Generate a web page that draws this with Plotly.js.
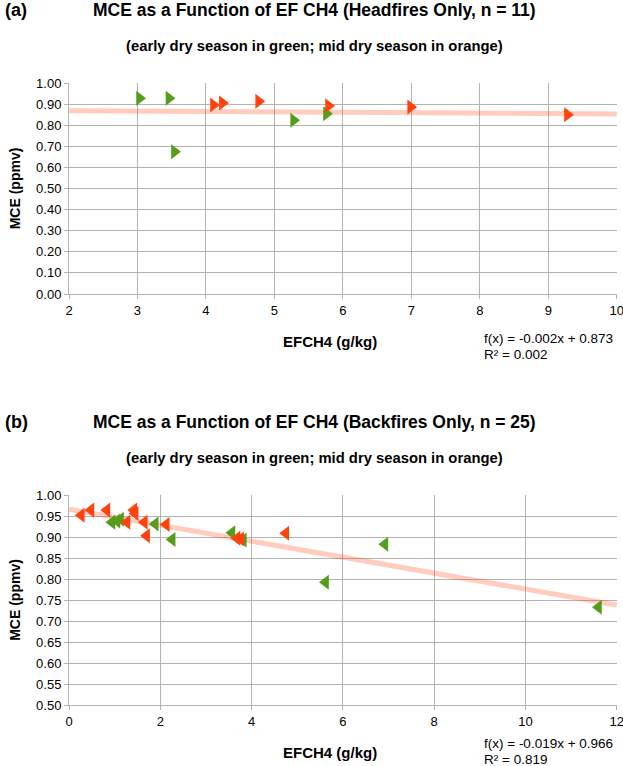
<!DOCTYPE html>
<html>
<head>
<meta charset="utf-8">
<script src="https://cdn.plot.ly/plotly-3.0.1.min.js"></script>
<style>
  html, body { margin: 0; padding: 0; background: #ffffff; }
  #chart { width: 623px; height: 766px; }
</style>
</head>
<body>
<div id="chart"></div>
<script>
// (a) headfires
const headGreenX = [3.03, 3.46, 3.54, 5.28, 5.76];
const headGreenY = [0.928, 0.928, 0.674, 0.823, 0.854];
const headOrangeX = [4.11, 4.24, 4.77, 5.79, 6.99, 9.28];
const headOrangeY = [0.896, 0.905, 0.913, 0.892, 0.886, 0.849];
const headFit = { slope: -0.002, intercept: 0.873, r2: 0.002, xRange: [2, 10] };

// (b) backfires
const backGreenX = [0.94, 1.05, 1.13, 1.89, 2.26, 3.57, 3.82, 5.62, 6.92, 11.6];
const backGreenY = [0.935, 0.938, 0.942, 0.931, 0.894, 0.910, 0.893, 0.792, 0.883, 0.733];
const backOrangeX = [0.27, 0.48, 0.83, 1.42, 1.45, 1.27, 1.65, 1.70, 2.13, 3.68, 3.76, 4.75];
const backOrangeY = [0.952, 0.964, 0.964, 0.964, 0.956, 0.935, 0.935, 0.903, 0.930, 0.897, 0.895, 0.909];
const backFit = { slope: -0.019, intercept: 0.966, r2: 0.819, xRange: [0, 12] };

const GREEN = '#579d1c';
const ORANGE = '#ff420e';
const FONT = 'Liberation Sans, Arial, sans-serif';

// page geometry (pixels) -> paper coords
const W = 623, H = 766, ML = 69, MR = 6, MT = 83, MB = 61;
const plotH = H - MT - MB;
const py = y => (H - MB - y) / plotH;
const pxx = x => (x - ML) / (W - ML - MR);

function fitTrace(fit, xa, ya) {
    const xs = fit.xRange;
    return {
        x: xs, y: xs.map(v => fit.intercept + fit.slope * v),
        xaxis: xa, yaxis: ya, mode: 'lines',
        line: { color: 'rgba(255,66,14,0.27)', width: 5 },
        hoverinfo: 'skip', showlegend: false
    };
}

function pts(x, y, color, symbol, xa, ya) {
    return {
        x: x, y: y, xaxis: xa, yaxis: ya, mode: 'markers',
        marker: { symbol: symbol, size: 13, color: color, line: { width: 0 } },
        showlegend: false
    };
}

const traces = [
    fitTrace(headFit, 'x', 'y'),
    pts(headGreenX, headGreenY, GREEN, 'triangle-right', 'x', 'y'),
    pts(headOrangeX, headOrangeY, ORANGE, 'triangle-right', 'x', 'y'),
    fitTrace(backFit, 'x2', 'y2'),
    pts(backGreenX, backGreenY, GREEN, 'triangle-left', 'x2', 'y2'),
    pts(backOrangeX, backOrangeY, ORANGE, 'triangle-left', 'x2', 'y2')
];

const grid = '#b3b3b3';
const axisBase = {
    showline: true, linecolor: grid, linewidth: 1,
    gridcolor: grid, gridwidth: 1, zeroline: false,
    ticks: 'outside', ticklen: 4, tickcolor: grid,
    tickfont: { family: FONT, size: 13, color: '#000' },
    ticklabeloverflow: 'allow',
    mirror: false, fixedrange: true
};
const yTitle = {
    text: '<b>MCE (ppmv)</b>', standoff: 12,
    font: { family: FONT, size: 14, color: '#000' }
};

const layout = {
    width: W, height: H,
    margin: { l: ML, r: MR, t: MT, b: MB },
    paper_bgcolor: '#ffffff', plot_bgcolor: '#ffffff',
    showlegend: false,
    xaxis: Object.assign({}, axisBase, {
        anchor: 'y', range: [2, 10.004], tickvals: [2, 3, 4, 5, 6, 7, 8, 9, 10]
    }),
    yaxis: Object.assign({}, axisBase, {
        anchor: 'x', domain: [py(294), 1], range: [0, 1], dtick: 0.1,
        tickformat: '.2f', title: yTitle
    }),
    xaxis2: Object.assign({}, axisBase, {
        anchor: 'y2', range: [0, 12.005], tickvals: [0, 2, 4, 6, 8, 10, 12]
    }),
    yaxis2: Object.assign({}, axisBase, {
        anchor: 'x2', domain: [0, py(495)], range: [0.5, 1], dtick: 0.05,
        tickformat: '.2f', title: yTitle
    }),
    annotations: []
};

function addText(text, x, y, size, anchor, bold) {
    layout.annotations.push({
        text: bold ? '<b>' + text + '</b>' : text,
        xref: 'paper', yref: 'paper', x: x, y: y,
        xanchor: anchor, yanchor: 'middle', showarrow: false, align: 'left',
        font: { family: FONT, size: size, color: '#000' }
    });
}

const panels = [
    { tag: '(a)', title: 'MCE as a Function of EF CH4 (Headfires Only, n = 11)', top: 0, axis: 294, fit: headFit },
    { tag: '(b)', title: 'MCE as a Function of EF CH4 (Backfires Only, n = 25)', top: 412, axis: 705, fit: backFit }
];
panels.forEach(p => {
    addText(p.tag, pxx(3), py(p.top + 10), 18, 'left', true);
    addText(p.title, pxx(314), py(p.top + 10), 17.5, 'center', true);
    addText('(early dry season in green; mid dry season in orange)', pxx(314), py(p.top + 46), 14.8, 'center', true);
    addText('EFCH4 (g/kg)', pxx(330), py(p.axis + 47), 15, 'center', true);
    const s = p.fit.slope.toFixed(3), b = p.fit.intercept.toFixed(3);
    const eqY = Math.min(p.axis + 44, H - 23);
    addText('f(x) = ' + s + 'x + ' + b, pxx(482), py(eqY), 13.5, 'left', false);
    addText('R² = ' + p.fit.r2.toFixed(3), pxx(482), py(eqY + 16), 13.5, 'left', false);
});

Plotly.newPlot('chart', traces, layout, { displayModeBar: false, staticPlot: true });
</script>
</body>
</html>
